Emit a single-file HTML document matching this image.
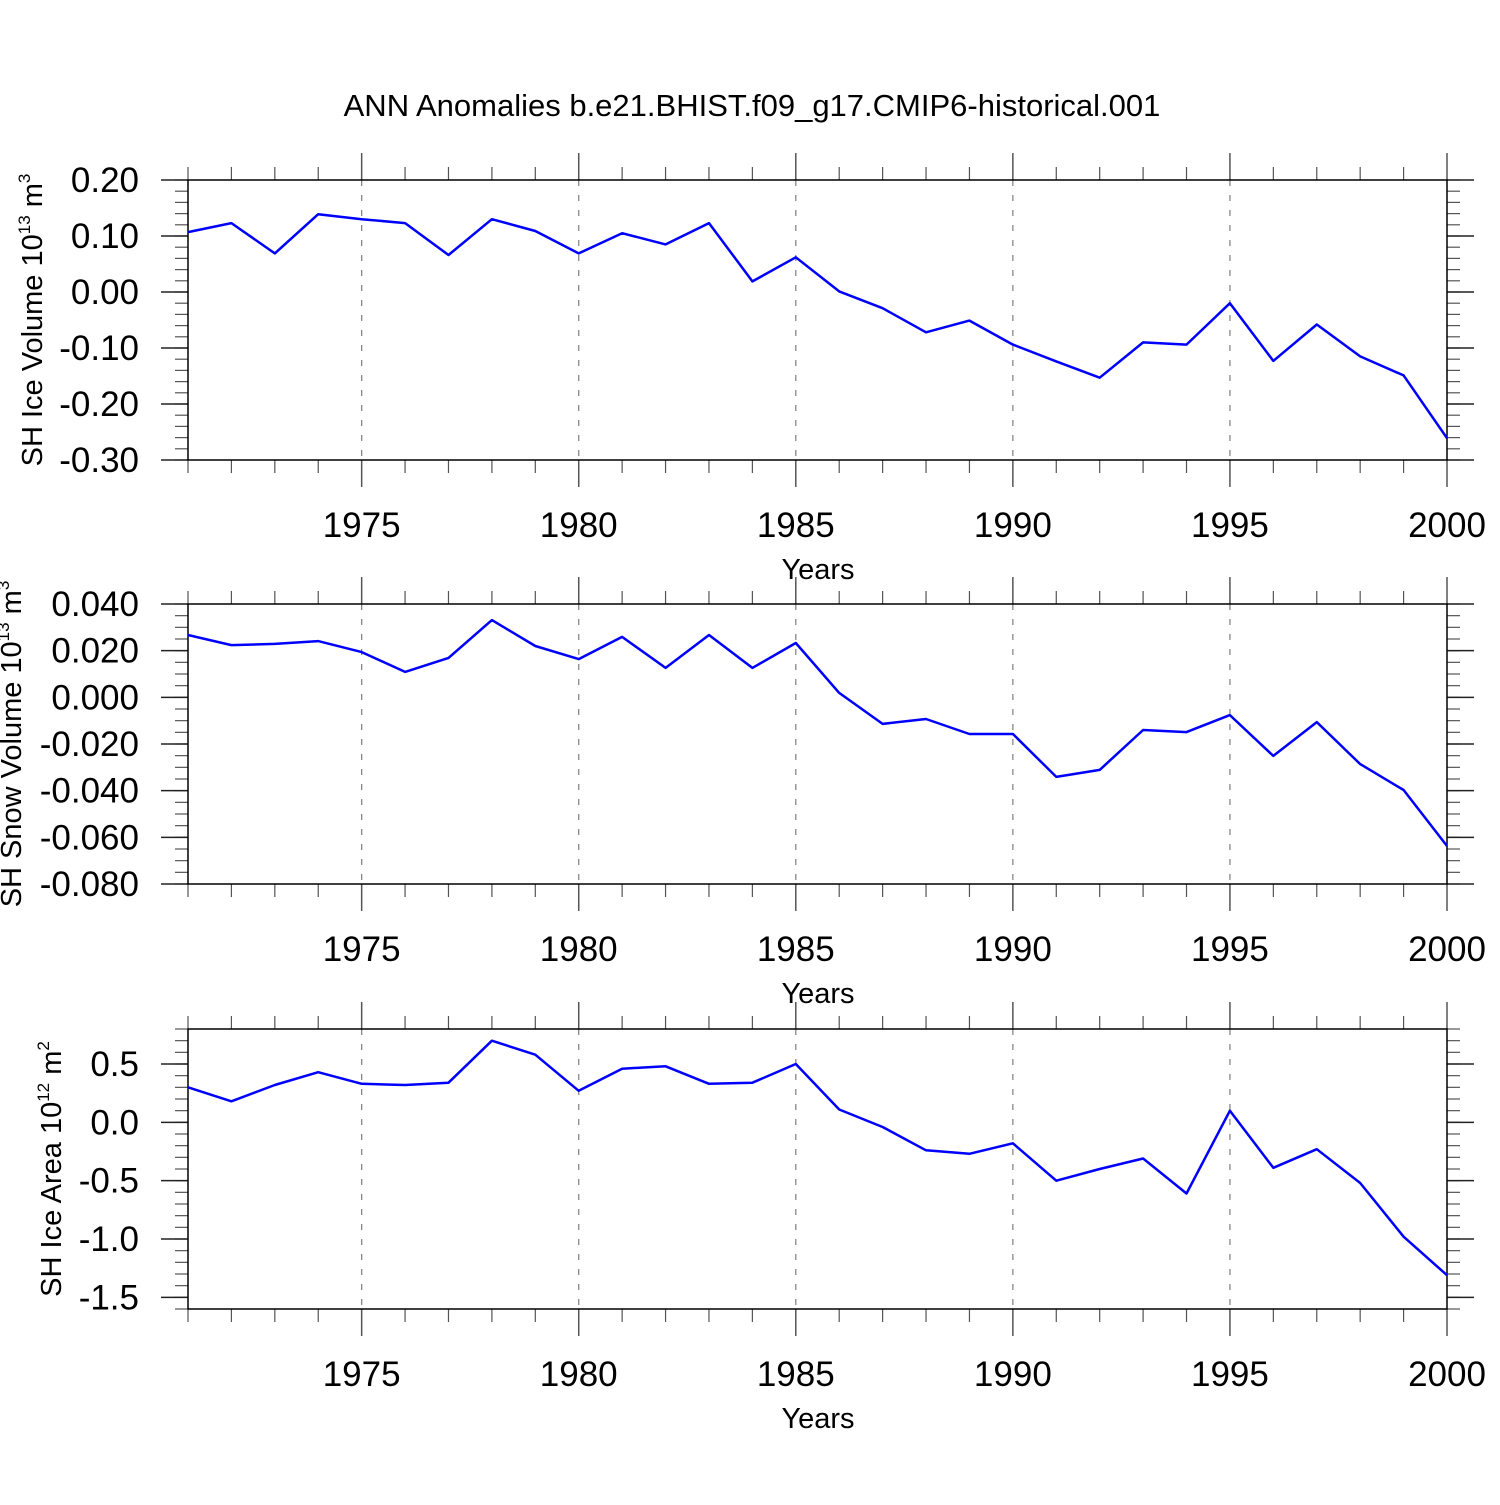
<!DOCTYPE html>
<html><head><meta charset="utf-8"><style>
body{margin:0;background:#fff;}
svg text{font-family:"Liberation Sans",sans-serif;fill:#000;}
</style></head><body>
<svg id="chart" width="1500" height="1500" xmlns="http://www.w3.org/2000/svg">
<text x="752" y="116" font-size="31" text-anchor="middle">ANN Anomalies b.e21.BHIST.f09_g17.CMIP6-historical.001</text>
</svg>
<script>
const years = [1971,1972,1973,1974,1975,1976,1977,1978,1979,1980,1981,1982,1983,1984,1985,1986,1987,1988,1989,1990,1991,1992,1993,1994,1995,1996,1997,1998,1999,2000];
const iceVolume = [0.107,0.123,0.069,0.139,0.130,0.123,0.066,0.130,0.109,0.069,0.105,0.085,0.123,0.019,0.062,0.001,-0.029,-0.072,-0.051,-0.094,-0.124,-0.153,-0.090,-0.094,-0.020,-0.123,-0.058,-0.115,-0.149,-0.261];
const snowVolume = [0.0267,0.0224,0.0229,0.0241,0.0194,0.0109,0.0169,0.0331,0.0220,0.0164,0.0259,0.0126,0.0267,0.0126,0.0233,0.0019,-0.0114,-0.0093,-0.0157,-0.0157,-0.0341,-0.0311,-0.0140,-0.0149,-0.0076,-0.0251,-0.0106,-0.0286,-0.0397,-0.0637];
const iceArea = [0.30,0.18,0.32,0.43,0.33,0.32,0.34,0.70,0.58,0.27,0.46,0.48,0.33,0.34,0.50,0.11,-0.04,-0.24,-0.27,-0.18,-0.50,-0.40,-0.31,-0.61,0.10,-0.39,-0.23,-0.52,-0.98,-1.31];
const xTickLabels = ["1975","1980","1985","1990","1995","2000"];
const iceVolTicks = ["0.20","0.10","0.00","-0.10","-0.20","-0.30"];
const snowVolTicks = ["0.040","0.020","0.000","-0.020","-0.040","-0.060","-0.080"];
const iceAreaTicks = ["0.5","0.0","-0.5","-1.0","-1.5"];

const NS="http://www.w3.org/2000/svg";
const svg=document.getElementById('chart');
function mk(tag,attrs,parent){const e=document.createElementNS(NS,tag);for(const k in attrs)e.setAttribute(k,attrs[k]);(parent||svg).appendChild(e);return e;}
const X0=188,X1=1447;
function xs(y){return X0+(y-1971)*(X1-X0)/29;}

function panel(name,top,ymin,ymax,ticks,minorStep,values,titleParts){
  const bot=top+280;
  const ys=v=>bot-(v-ymin)/(ymax-ymin)*280;
  const g=mk('g',{});
  
  
  for(let yr=1975;yr<=1995;yr+=5){
    const l=mk('line',{x1:xs(yr),x2:xs(yr),y1:top,y2:bot,stroke:'#888','stroke-width':1.3,'stroke-dasharray':'6,9'},g);
    
    
  }
  for(let yr=1971;yr<=2000;yr++){
    const major=yr%5===0;const len=major?27:13;
    mk('line',{x1:xs(yr),x2:xs(yr),y1:top-len,y2:top,stroke:'#555','stroke-width':major?1.5:1.2},g);
    mk('line',{x1:xs(yr),x2:xs(yr),y1:bot,y2:bot+len,stroke:'#555','stroke-width':major?1.5:1.2},g);
  }
  xTickLabels.forEach(s=>{
    const t=mk('text',{x:xs(+s),y:bot+77,'font-size':35,'text-anchor':'middle'},g);
    t.textContent=s;
    
    
  });
  const xt=mk('text',{x:818,y:bot+119,'font-size':29,'text-anchor':'middle'},g);
  xt.textContent='Years';
  
  
  const n=Math.round((ymax-ymin)/minorStep);
  for(let i=0;i<=n;i++){
    const v=ymin+i*minorStep;const y=ys(v);
    mk('line',{x1:X0-13,x2:X0,y1:y,y2:y,stroke:'#555','stroke-width':1.2},g);
    mk('line',{x1:X1,x2:X1+13,y1:y,y2:y,stroke:'#555','stroke-width':1.2},g);
  }
  ticks.forEach(s=>{
    const y=ys(parseFloat(s));
    mk('line',{x1:X0-27,x2:X0,y1:y,y2:y,stroke:'#222','stroke-width':1.5},g);
    mk('line',{x1:X1,x2:X1+27,y1:y,y2:y,stroke:'#222','stroke-width':1.5},g);
    const t=mk('text',{x:139,y:y+12,'font-size':35,'text-anchor':'end'},g);
    t.textContent=s;
    
    
  });
  const f=mk('rect',{x:X0,y:top,width:X1-X0,height:280,fill:'none',stroke:'#000','stroke-width':1.5},g);
  
  
  const pts=years.map((yr,i)=>xs(yr).toFixed(1)+','+ys(values[i]).toFixed(1)).join(' ');
  const pl=mk('polyline',{points:pts,fill:'none',stroke:'#0000ff','stroke-width':2.5,'stroke-linejoin':'round'},g);
  
  
  const t=mk('text',{x:0,y:0,'font-size':29,'text-anchor':'middle',transform:'translate('+titleParts[3]+','+(top+140)+') rotate(-90)'},g);
  
  
  const a=mk('tspan',{},t);a.textContent=titleParts[0]+' 10';
  const b=mk('tspan',{dy:-12,'font-size':17},t);b.textContent=titleParts[1];
  const c=mk('tspan',{dy:12},t);c.textContent=' m';
  const d=mk('tspan',{dy:-12,'font-size':17},t);d.textContent=titleParts[2];
}
panel('ice-volume',180,-0.30,0.20,iceVolTicks,0.02,iceVolume,['SH Ice Volume','13','3',42]);
panel('snow-volume',604,-0.080,0.040,snowVolTicks,0.005,snowVolume,['SH Snow Volume','13','3',21]);
panel('ice-area',1029,-1.6,0.8,iceAreaTicks,0.1,iceArea,['SH Ice Area','12','2',61]);
</script>
</body></html>
